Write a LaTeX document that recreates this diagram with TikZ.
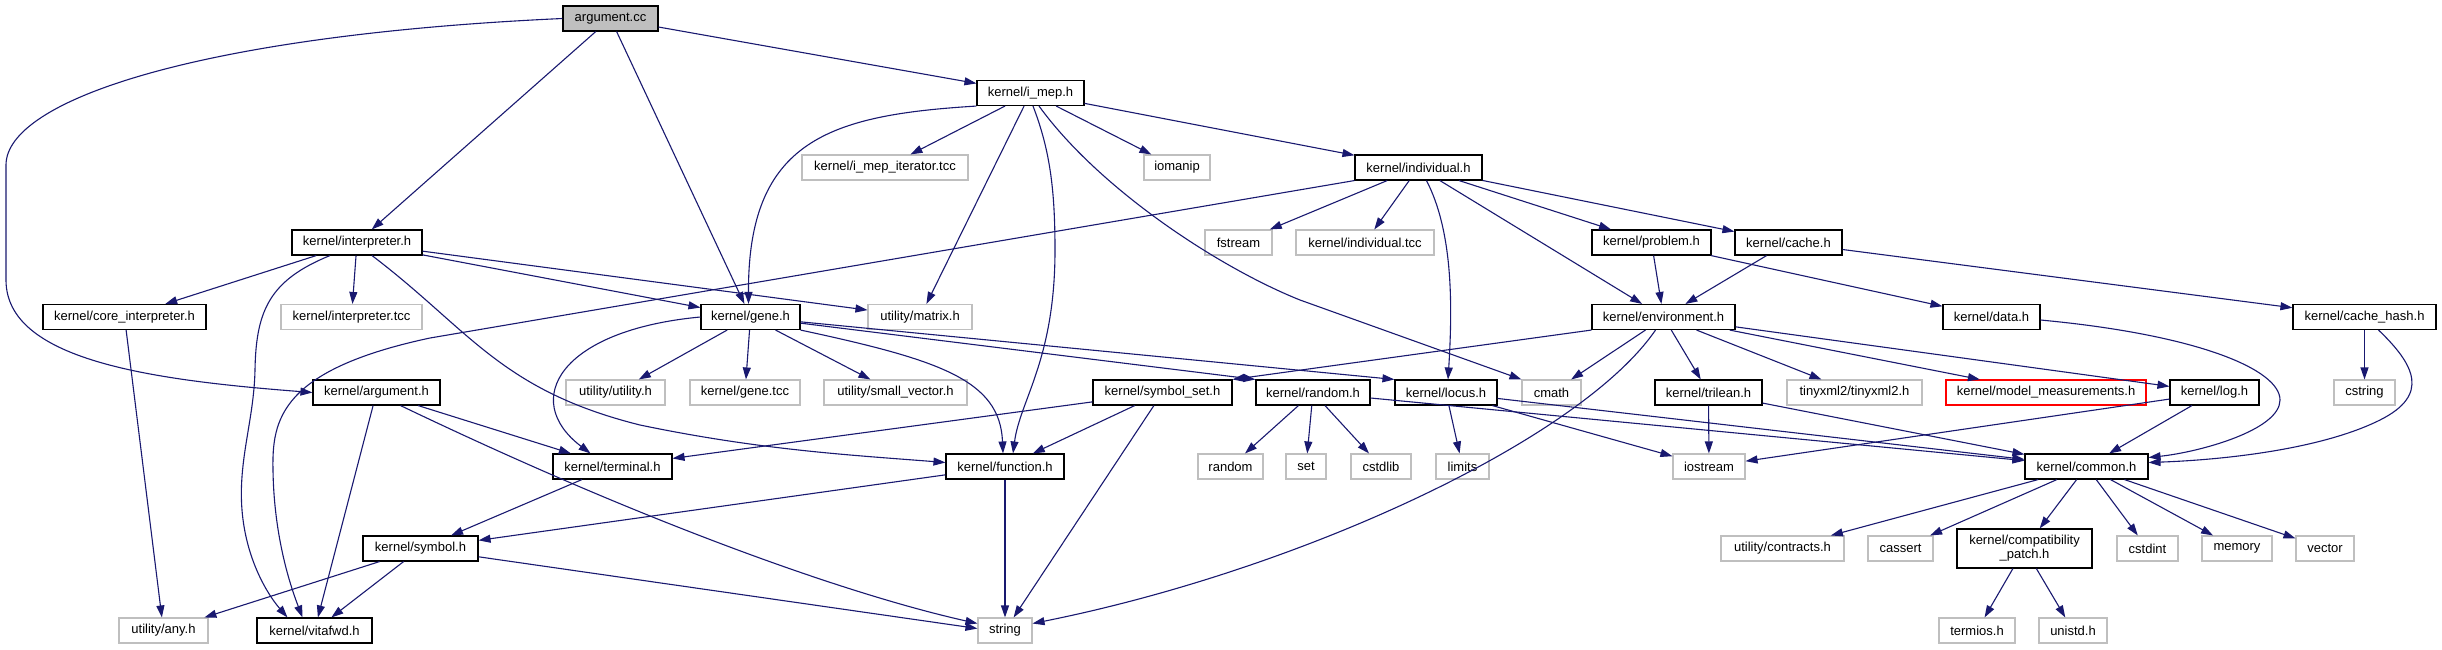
\documentclass[tikz,border=0pt]{standalone}
\usepackage{fontspec}
\setmainfont{Liberation Sans}
\usetikzlibrary{arrows.meta}
\definecolor{edgec}{HTML}{191970}
\definecolor{grayb}{HTML}{BFBFBF}
\definecolor{rootfill}{HTML}{BFBFBF}
\begin{document}
\begin{tikzpicture}[x=1pt,y=-1pt,
  box/.style={draw=black, line width=1.1pt, fill=white, rectangle, inner sep=0pt,
    minimum height=25pt, font=\fontsize{13}{14}\selectfont, text=black, align=center},
  sys/.style={box, draw=grayb},
  flagbox/.style={box, draw=red},
  dep/.style={draw=edgec, line width=1.1pt, -{Triangle[length=12pt,width=8pt]}}]
\fill[white] (0,0) rectangle (2442,649);
\useasboundingbox (0,0) rectangle (2442,649);
% nodes
\node[box, fill=rootfill, minimum width=95pt] (arg) at (610.5,18.5) {argument.cc};
\node[box, minimum width=107pt] (imep) at (1030.5,93) {kernel/i\_mep.h};
\node[sys, minimum width=166pt] (imepit) at (885,167.5) {kernel/i\_mep\_iterator.tcc};
\node[sys, minimum width=66pt] (iomanip) at (1177,167.5) {iomanip};
\node[box, minimum width=127pt] (indiv) at (1418.5,167.5) {kernel/individual.h};
\node[box, minimum width=130pt] (interp) at (357,242.5) {kernel/interpreter.h};
\node[sys, minimum width=67pt] (fstream) at (1238.5,242.5) {fstream};
\node[sys, minimum width=138pt] (indivtcc) at (1365,242.5) {kernel/individual.tcc};
\node[box, minimum width=119pt] (problem) at (1651.5,242.5) {kernel/problem.h};
\node[box, minimum width=107pt] (cache) at (1788.5,242.5) {kernel/cache.h};
\node[box, minimum width=163pt] (coreint) at (124.5,317) {kernel/core\_interpreter.h};
\node[sys, minimum width=141pt] (interptcc) at (351.5,317) {kernel/interpreter.tcc};
\node[box, minimum width=99pt] (gene) at (750.5,317) {kernel/gene.h};
\node[sys, minimum width=104pt] (matrix) at (920,317) {utility/matrix.h};
\node[box, minimum width=143pt] (env) at (1663.5,317) {kernel/environment.h};
\node[box, minimum width=97pt] (data) at (1991.5,317) {kernel/data.h};
\node[box, minimum width=143pt] (cachehash) at (2364.5,317) {kernel/cache\_hash.h};
\node[box, minimum width=127pt] (argh) at (376.5,392.5) {kernel/argument.h};
\node[sys, minimum width=99pt] (utility) at (615.5,392.5) {utility/utility.h};
\node[sys, minimum width=110pt] (genetcc) at (745,392.5) {kernel/gene.tcc};
\node[sys, minimum width=143pt] (smallvec) at (895.5,392.5) {utility/small\_vector.h};
\node[box, minimum width=139pt] (symset) at (1162.5,392.5) {kernel/symbol\_set.h};
\node[box, minimum width=114pt] (random) at (1313,392.5) {kernel/random.h};
\node[box, minimum width=102pt] (locus) at (1446,392.5) {kernel/locus.h};
\node[sys, minimum width=59pt] (cmath) at (1551.5,392.5) {cmath};
\node[box, minimum width=107pt] (trilean) at (1708.5,392.5) {kernel/trilean.h};
\node[sys, minimum width=135pt] (tinyxml) at (1854.5,392.5) {tinyxml2/tinyxml2.h};
\node[flagbox, minimum width=200pt] (modelm) at (2046,392.5) {kernel/model\_measurements.h};
\node[box, minimum width=89pt] (log) at (2214.5,392.5) {kernel/log.h};
\node[sys, minimum width=61pt] (cstring) at (2364.5,392.5) {cstring};
\node[box, minimum width=119pt] (terminal) at (612.5,466.5) {kernel/terminal.h};
\node[box, minimum width=118pt] (function) at (1005,466.5) {kernel/function.h};
\node[sys, minimum width=65pt] (randomstd) at (1230.5,466.5) {random};
\node[sys, minimum width=40pt] (set) at (1306,466.5) {set};
\node[sys, minimum width=60pt] (cstdlib) at (1381,466.5) {cstdlib};
\node[sys, minimum width=53pt] (limits) at (1462.5,466.5) {limits};
\node[sys, minimum width=72pt] (iostream) at (1709,466.5) {iostream};
\node[box, minimum width=123pt] (common) at (2086.5,466.5) {kernel/common.h};
\node[box, minimum width=115pt] (symbol) at (420.5,548.5) {kernel/symbol.h};
\node[sys, minimum width=123pt] (contracts) at (1782.5,548.5) {utility/contracts.h};
\node[sys, minimum width=65pt] (cassert) at (1900.5,548.5) {cassert};
\node[box, minimum width=135pt, minimum height=39pt] (compat) at (2024.5,548.5) {kernel/compatibility\\\_patch.h};
\node[sys, minimum width=61pt] (cstdint) at (2147.5,548.5) {cstdint};
\node[sys, minimum width=70pt] (memory) at (2237,548.5) {memory};
\node[sys, minimum width=58pt] (vector) at (2325,548.5) {vector};
\node[sys, minimum width=89pt] (any) at (163.5,630.5) {utility/any.h};
\node[box, minimum width=115pt] (vitafwd) at (314.5,630.5) {kernel/vitafwd.h};
\node[sys, minimum width=54pt] (string) at (1005,630.5) {string};
\node[sys, minimum width=76pt] (termios) at (1977,630.5) {termios.h};
\node[sys, minimum width=68pt] (unistd) at (2073,630.5) {unistd.h};
% edges
\draw[dep] (arg) -- (imep);
\draw[dep] (arg) -- (interp);
\draw[dep] (arg) -- (gene);
\draw[dep] (arg.west) .. controls (200,35) and (6,100) .. (6,165) -- (6,280) .. controls (6,360) and (150,380) .. (argh.west);
\draw[dep] (imep.south west) .. controls (830,115) and (748,140) .. ([xshift=-2pt]gene.north);
\draw[dep] (imep) -- (imepit);
\draw[dep] (imep) -- (matrix);
\draw[dep] ([xshift=2.5pt]imep.south) .. controls (1050,150) and (1055,190) .. (1055,250) .. controls (1055,360) and (1020,400) .. ([xshift=8pt]function.north);
\draw[dep] (imep) -- (iomanip);
\draw[dep] (imep) -- (indiv);
\draw[dep] ([xshift=8.5pt]imep.south) .. controls (1100,190) and (1220,268) .. (1300,300) -- (cmath.north west);
\draw[dep] (indiv.south west) -- (430,338) .. controls (280,370) and (272,420) .. (273,470) .. controls (274,540) and (292,590) .. ([xshift=-12pt]vitafwd.north);
\draw[dep] (indiv) -- (fstream);
\draw[dep] (indiv) -- (indivtcc);
\draw[dep] ([xshift=8pt]indiv.south) .. controls (1452,230) and (1453,300) .. ([xshift=2pt]locus.north);
\draw[dep] (indiv) -- (env);
\draw[dep] (indiv) -- (problem);
\draw[dep] (indiv) -- (cache);
\draw[dep] (interp) -- (coreint);
\draw[dep] (interp) -- (interptcc);
\draw[dep] (interp) -- (gene);
\draw[dep] (interp) -- (matrix);
\draw[dep] ([xshift=-27pt]interp.south) .. controls (270,280) and (256,310) .. (255,370) .. controls (254,420) and (238,460) .. (242,510) .. controls (246,560) and (268,595) .. ([xshift=-27pt]vitafwd.north);
\draw[dep] ([xshift=15pt]interp.south) .. controls (470,330) and (500,390) .. (640,425) .. controls (760,450) and (850,455) .. ([yshift=4pt]function.west);
\draw[dep] (coreint) -- (any);
\draw[dep] (gene.west) .. controls (560,330) and (520,400) .. ([xshift=-22pt]terminal.north);
\draw[dep] (gene) -- (utility);
\draw[dep] (gene) -- (genetcc);
\draw[dep] (gene) -- (smallvec);
\draw[dep] (gene.south east) .. controls (940,360) and (1000,380) .. ([xshift=-2pt]function.north);
\draw[dep] (gene) -- (random.north west);
\draw[dep] (gene) -- (locus.north west);
\draw[dep] (argh) -- (terminal);
\draw[dep] (argh) -- (vitafwd);
\draw[dep] ([xshift=24pt]argh.south) .. controls (650,525) and (850,595) .. ([yshift=7pt]string.west);
\draw[dep] (symset) -- (terminal);
\draw[dep] (symset) -- (function);
\draw[dep] (symset) -- (string);
\draw[dep] (random) -- (randomstd);
\draw[dep] (random) -- (set);
\draw[dep] (random) -- (cstdlib);
\draw[dep] (random) -- (common);
\draw[dep] (locus) -- (limits);
\draw[dep] (locus) -- (iostream);
\draw[dep] (locus) -- (common);
\draw[dep] (function) -- (symbol);
\draw[dep] (function) -- (string);
\draw[dep] (terminal) -- (symbol);
\draw[dep] (symbol) -- (any);
\draw[dep] (symbol) -- (vitafwd);
\draw[dep] (symbol) -- ([yshift=2pt]string.west);
\draw[dep] (env.south west) -- (symset.north east);
\draw[dep] ([xshift=-18pt]env.south) -- (cmath);
\draw[dep] ([xshift=-8pt]env.south) .. controls (1580,440) and (1300,570) .. ([yshift=7pt]string.east);
\draw[dep] (env) -- (trilean);
\draw[dep] (env) -- (tinyxml);
\draw[dep] (env) -- (modelm);
\draw[dep] (env) -- (log);
\draw[dep] (trilean) -- (iostream);
\draw[dep] (trilean) -- (common);
\draw[dep] (log) -- (iostream);
\draw[dep] (log) -- (common);
\draw[dep] (problem) -- (env);
\draw[dep] (problem) -- (data);
\draw[dep] (cache) -- (env);
\draw[dep] (cache) -- (cachehash);
\draw[dep] ([yshift=-3pt]data.east) .. controls (2200,335) and (2280,370) .. (2280,400) .. controls (2280,430) and (2200,452) .. ([yshift=9pt]common.east);
\draw[dep] (cachehash) -- (cstring);
\draw[dep] ([xshift=14pt]cachehash.south) .. controls (2415,365) and (2430,395) .. (2380,420) .. controls (2320,450) and (2220,460) .. ([yshift=4pt]common.east);
\draw[dep] (common) -- (contracts);
\draw[dep] (common) -- (cassert);
\draw[dep] (common) -- (compat);
\draw[dep] (common) -- (cstdint);
\draw[dep] (common) -- (memory);
\draw[dep] (common) -- (vector);
\draw[dep] (compat) -- (termios);
\draw[dep] (compat) -- (unistd);
\end{tikzpicture}
\end{document}
